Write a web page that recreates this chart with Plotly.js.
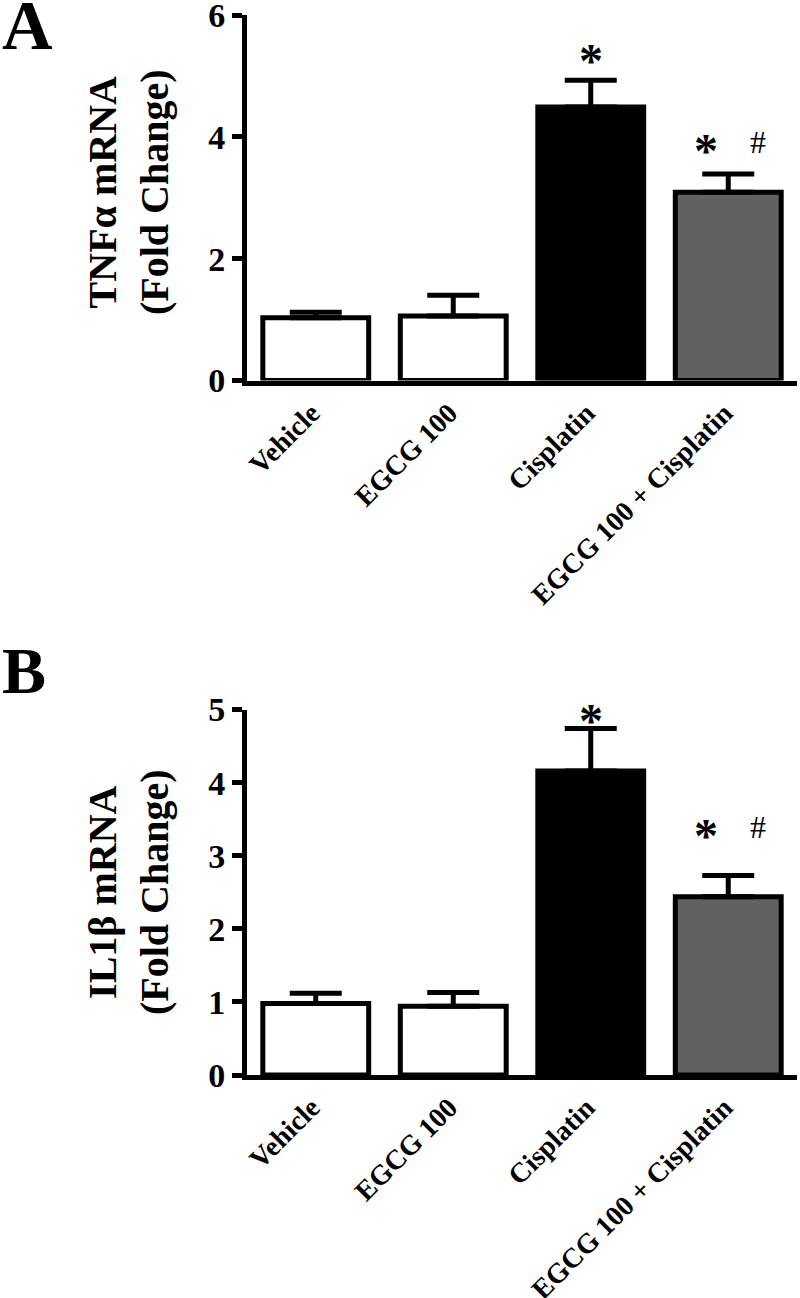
<!DOCTYPE html>
<html>
<head>
<meta charset="utf-8">
<script src="https://cdn.plot.ly/plotly-3.0.1.min.js"></script>
<style>body{margin:0;background:#fff}</style>
</head>
<body>
<div id="plot" style="width:800px;height:1298px"></div>
<script>
const groups = ["Vehicle", "EGCG 100", "Cisplatin", "EGCG 100 + Cisplatin"];
const fills = ["#ffffff", "#ffffff", "#000000", "#616161"];

// panel A - TNFa mRNA (fold change), mean and upper SEM
const tnfMean = [1.03, 1.06, 4.49, 3.09];
const tnfSem = [0.09, 0.34, 0.44, 0.30];
const tnfStarY = [null, null, 5.40, 3.92];   // * vs vehicle
const tnfHashY = [null, null, null, 3.92];   // # vs cisplatin

// panel B - IL1b mRNA (fold change)
const ilMean = [0.98, 0.94, 4.16, 2.44];
const ilSem = [0.14, 0.19, 0.58, 0.29];
const ilStarY = [null, null, 4.98, 3.40];
const ilHashY = [null, null, null, 3.40];

const W = 800, H = 1298;
const FONT = "Liberation Serif, Times New Roman, serif";
const px = v => v / W;
const py = v => 1 - v / H;

function barTrace(mean, sem, xa, ya){
    return {
        type: "bar",
        x: groups,
        y: mean,
        xaxis: xa, yaxis: ya,
        marker: {color: fills, line: {color: "#000", width: 5}},
        error_y: {type: "data", array: sem, arrayminus: sem.map(() => 0), symmetric: false,
                  color: "#000", thickness: 5, width: 26},
        hoverinfo: "skip",
        showlegend: false
    };
}

// * and # signs, placed over the bars
function markNotes(starY, hashY, xa, ya){
    const notes = [];
    groups.forEach((g, i) => {
        const both = starY[i] != null && hashY[i] != null;
        if (starY[i] != null) notes.push({
            text: "*", x: g, y: starY[i], xref: xa, yref: ya,
            xshift: both ? -22 : 0, yshift: -9, showarrow: false,
            font: {family: FONT, size: 48, weight: "bold", color: "#000"}
        });
        if (hashY[i] != null) notes.push({
            text: "#", x: g, y: hashY[i], xref: xa, yref: ya,
            xshift: 30, showarrow: false,
            font: {family: FONT, size: 32, color: "#000"}
        });
    });
    return notes;
}

const xBase = {
    type: "category",
    range: [-0.5, 3.5],
    domain: [px(247), px(797)],
    showline: true, linewidth: 5, linecolor: "#000",
    ticks: "", tickangle: -45, ticklabelshift: -4, ticklabeloverflow: "allow",
    tickfont: {family: FONT, size: 28, weight: "bold", color: "#000"},
    showgrid: false, zeroline: false, fixedrange: true, automargin: false
};
const yBase = {
    showline: true, linewidth: 5, linecolor: "#000",
    ticks: "outside", ticklen: 10, tickwidth: 5, tickcolor: "#000",
    ticklabeloverflow: "allow",
    tickfont: {family: FONT, size: 34, weight: "bold", color: "#000"},
    showgrid: false, zeroline: false, fixedrange: true, automargin: false
};

const titleFont = {family: FONT, size: 40, weight: "bold", color: "#000"};

const layout = {
    width: W, height: H,
    margin: {l: 0, r: 0, t: 0, b: 0},
    paper_bgcolor: "#fff", plot_bgcolor: "rgba(0,0,0,0)",
    bargap: 0.23,
    xaxis: Object.assign({}, xBase, {anchor: "y"}),
    yaxis: Object.assign({}, yBase, {anchor: "x", domain: [py(380.5), py(15)],
                                     range: [0, 6.001], tickvals: [0, 2, 4, 6]}),
    xaxis2: Object.assign({}, xBase, {anchor: "y2"}),
    yaxis2: Object.assign({}, yBase, {anchor: "x2", domain: [py(1075), py(709.5)],
                                      range: [0, 5.001], tickvals: [0, 1, 2, 3, 4, 5]}),
    annotations: [
        {text: "A", x: 0, y: py(-15), xref: "paper", yref: "paper", xanchor: "left", yanchor: "top",
         showarrow: false, font: {family: FONT, size: 70, weight: "bold", color: "#000"}},
        {text: "B", x: 0, y: py(632), xref: "paper", yref: "paper", xanchor: "left", yanchor: "top",
         showarrow: false, font: {family: FONT, size: 66, weight: "bold", color: "#000"}},
        {text: "TNFα mRNA<br>(Fold Change)", x: px(128), y: py(192), xref: "paper", yref: "paper",
         textangle: -90, showarrow: false, xanchor: "center", yanchor: "middle", font: titleFont},
        {text: "IL1β mRNA<br>(Fold Change)", x: px(128), y: py(892), xref: "paper", yref: "paper",
         textangle: -90, showarrow: false, xanchor: "center", yanchor: "middle", font: titleFont}
    ].concat(markNotes(tnfStarY, tnfHashY, "x", "y"), markNotes(ilStarY, ilHashY, "x2", "y2"))
};

const data = [
    barTrace(tnfMean, tnfSem, "x", "y"),
    barTrace(ilMean, ilSem, "x2", "y2")
];

Plotly.newPlot("plot", data, layout, {staticPlot: true, displayModeBar: false});
</script>
</body>
</html>
